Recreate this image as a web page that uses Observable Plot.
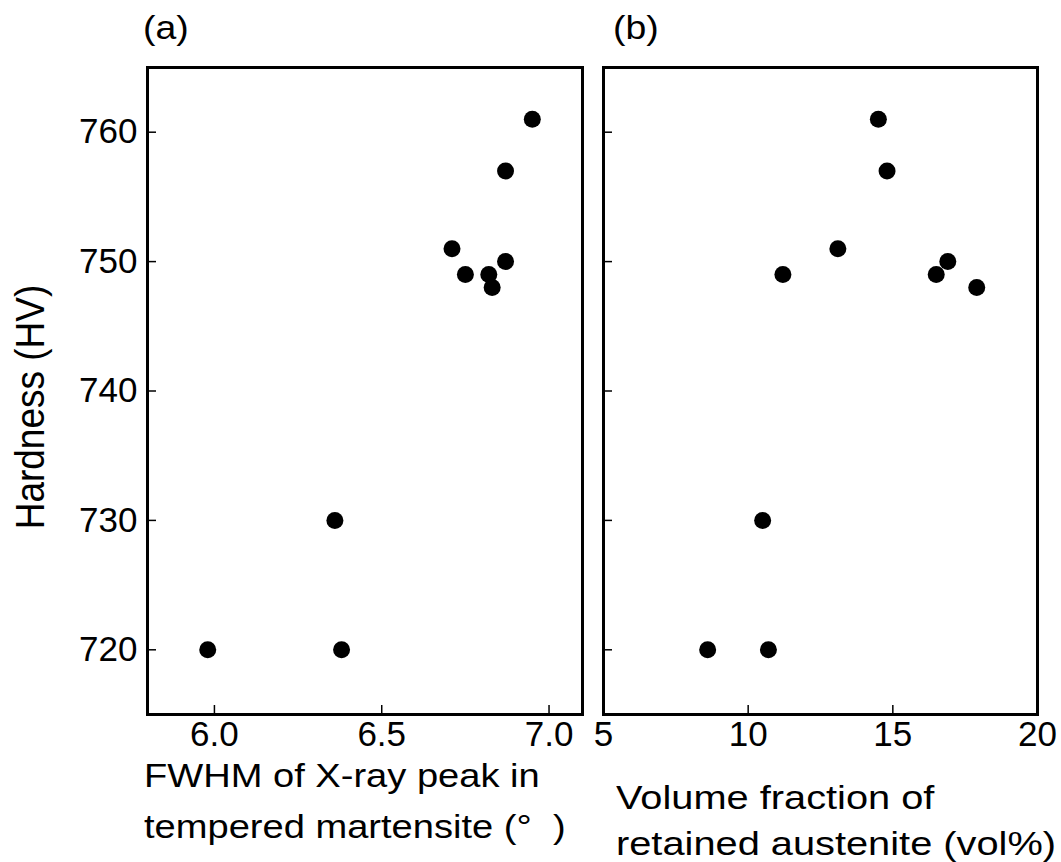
<!DOCTYPE html>
<html>
<head>
<meta charset="utf-8">
<script src="https://cdn.jsdelivr.net/npm/d3@7"></script>
<script src="https://cdn.jsdelivr.net/npm/@observablehq/plot@0.6"></script>
<style>
  html, body { margin: 0; padding: 0; background: #fff; }
  #wrap { position: relative; width: 1061px; height: 862px; font-family: "Liberation Sans", Arial, sans-serif; color: #000; overflow: hidden; }
  .panel { position: absolute; top: 0; }
  .lbl { position: absolute; white-space: nowrap; line-height: 1; transform-origin: left top; }
</style>
</head>
<body>
<div id="wrap"></div>
<script>
// ---- data ----
const hardness = [720, 720, 730, 751, 749, 749, 748, 750, 757, 761];
const fwhm = [5.98, 6.38, 6.36, 6.71, 6.75, 6.82, 6.83, 6.87, 6.87, 6.95];
const austenite = [8.6, 10.7, 10.5, 13.1, 11.2, 16.5, 17.9, 16.9, 14.8, 14.5];
const yTicks = [720, 730, 740, 750, 760];
const xTicksA = [6.0, 6.5, 7.0];
const xTicksB = [5, 10, 15, 20];
const panelLabels = ["(a)", "(b)"];
const xTitleA = ["FWHM of X-ray peak in", "tempered martensite (°\u00a0\u00a0)"];
const xTitleB = ["Volume fraction of", "retained austenite (vol%)"];
const yTitle = "Hardness (HV)";

const rowsA = hardness.map((h, i) => ({x: fwhm[i], y: h}));
const rowsB = hardness.map((h, i) => ({x: austenite[i], y: h}));

const style = {fontFamily: '"Liberation Sans", Arial, sans-serif', fontSize: "35px", color: "black", background: "transparent", overflow: "visible"};
const wrap = document.getElementById("wrap");

const plotA = Plot.plot({
  width: 590, height: 862,
  marginLeft: 147, marginRight: 8, marginTop: 67, marginBottom: 148,
  x: {domain: [5.8, 7.1]},
  y: {domain: [715, 765]},
  style,
  marks: [
    Plot.axisX(xTicksA, {tickSize: -9, tickPadding: 16, strokeWidth: 1.5, tickFormat: d3.format(".1f"), label: null}),
    Plot.axisY(yTicks, {tickSize: -9, tickPadding: 19, strokeWidth: 1.5, label: null}),
    Plot.dot(rowsA, {x: "x", y: "y", r: 8.5, fill: "black"}),
    Plot.frame({stroke: "black", strokeWidth: 3})
  ]
});
plotA.classList.add("panel");
plotA.style.left = "0px";
wrap.appendChild(plotA);

const plotB = Plot.plot({
  width: 471, height: 862,
  marginLeft: 13, marginRight: 24, marginTop: 67, marginBottom: 148,
  x: {domain: [5, 20]},
  y: {domain: [715, 765]},
  style,
  marks: [
    Plot.axisX(xTicksB, {tickSize: -9, tickPadding: 16, strokeWidth: 1.5, label: null}),
    Plot.axisY(yTicks, {tickSize: -9, tickFormat: () => "", label: null, strokeWidth: 1.5}),
    Plot.dot(rowsB, {x: "x", y: "y", r: 8.5, fill: "black"}),
    Plot.frame({stroke: "black", strokeWidth: 3})
  ]
});
plotB.classList.add("panel");
plotB.style.left = "590px";
wrap.appendChild(plotB);

function addLabel(text, left, top, size, sx, extra) {
  const d = document.createElement("div");
  d.className = "lbl";
  d.textContent = text;
  d.style.left = left + "px";
  d.style.top = top + "px";
  d.style.fontSize = size + "px";
  d.style.transform = `scaleX(${sx})`;
  if (extra) extra(d);
  wrap.appendChild(d);
  return d;
}
addLabel(panelLabels[0], 143, 10, 34, 1.1);
addLabel(panelLabels[1], 613, 10, 34, 1.1);
addLabel(xTitleA[0], 144, 758, 34, 1.12);
addLabel(xTitleA[1], 144, 809, 34, 1.12);
addLabel(xTitleB[0], 616, 780, 34, 1.17);
addLabel(xTitleB[1], 616, 826, 34, 1.17);
addLabel(yTitle, 0, 0, 37, 1.1, d => {
  d.style.left = "10px";
  d.style.top = "407px";
  d.style.transformOrigin = "0 0";
  d.style.transform = "scaleX(1.1) rotate(-90deg) translate(-50%, 0)";
});
</script>
</body>
</html>
